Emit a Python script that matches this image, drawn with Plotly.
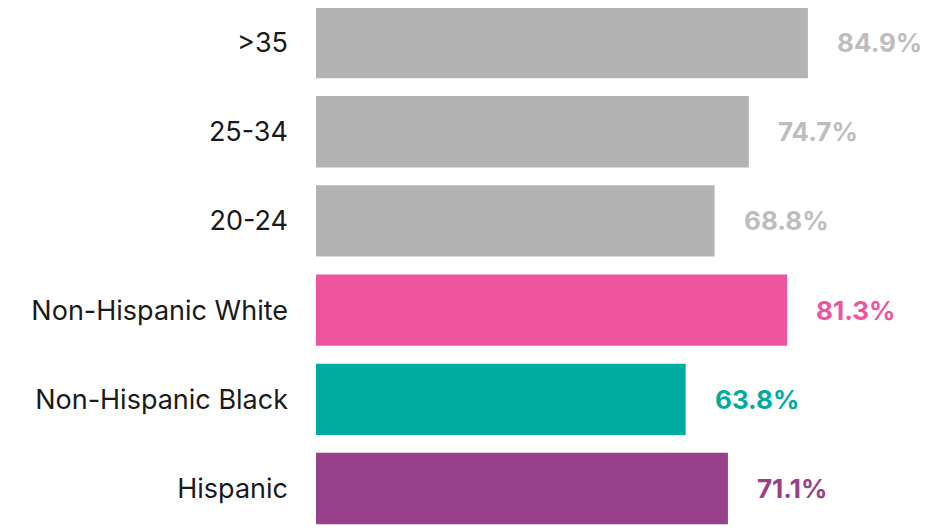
import plotly.graph_objects as go

categories = ["Hispanic", "Non-Hispanic Black", "Non-Hispanic White", "20-24", "25-34", ">35"]
values = [71.1, 63.8, 81.3, 68.8, 74.7, 84.9]
bar_colors = ["#98418b", "#00ab9f", "#ee559e", "#b3b3b3", "#b3b3b3", "#b3b3b3"]
label_colors = ["#98418b", "#00ab9f", "#ee559e", "#bdbdbd", "#bdbdbd", "#bdbdbd"]

fig = go.Figure()
fig.add_trace(go.Bar(
    y=categories, x=values, orientation="h",
    marker=dict(color=bar_colors, line=dict(width=0)),
    width=0.8, hoverinfo="skip",
))

for c, v, col in zip(categories, values, label_colors):
    fig.add_annotation(
        x=v, y=c, text=f"<b>{v:.1f}%</b>", showarrow=False,
        xanchor="left", xshift=27, yshift=0,
        font=dict(family="Inter", size=26, color=col),
    )

fig.update_layout(
    width=932, height=521,
    margin=dict(l=308, r=0, t=0, b=0),
    plot_bgcolor="white", paper_bgcolor="white",
    showlegend=False,
    xaxis=dict(range=[0, 107.7], visible=False),
    yaxis=dict(
        type="category", range=[-0.454, 5.387],
        showgrid=False, zeroline=False, showline=False,
        ticks="", ticklabelstandoff=27,
        tickfont=dict(family="Inter", size=27, color="#1a1a1a"),
    ),
)

fig.write_html("out.html")
